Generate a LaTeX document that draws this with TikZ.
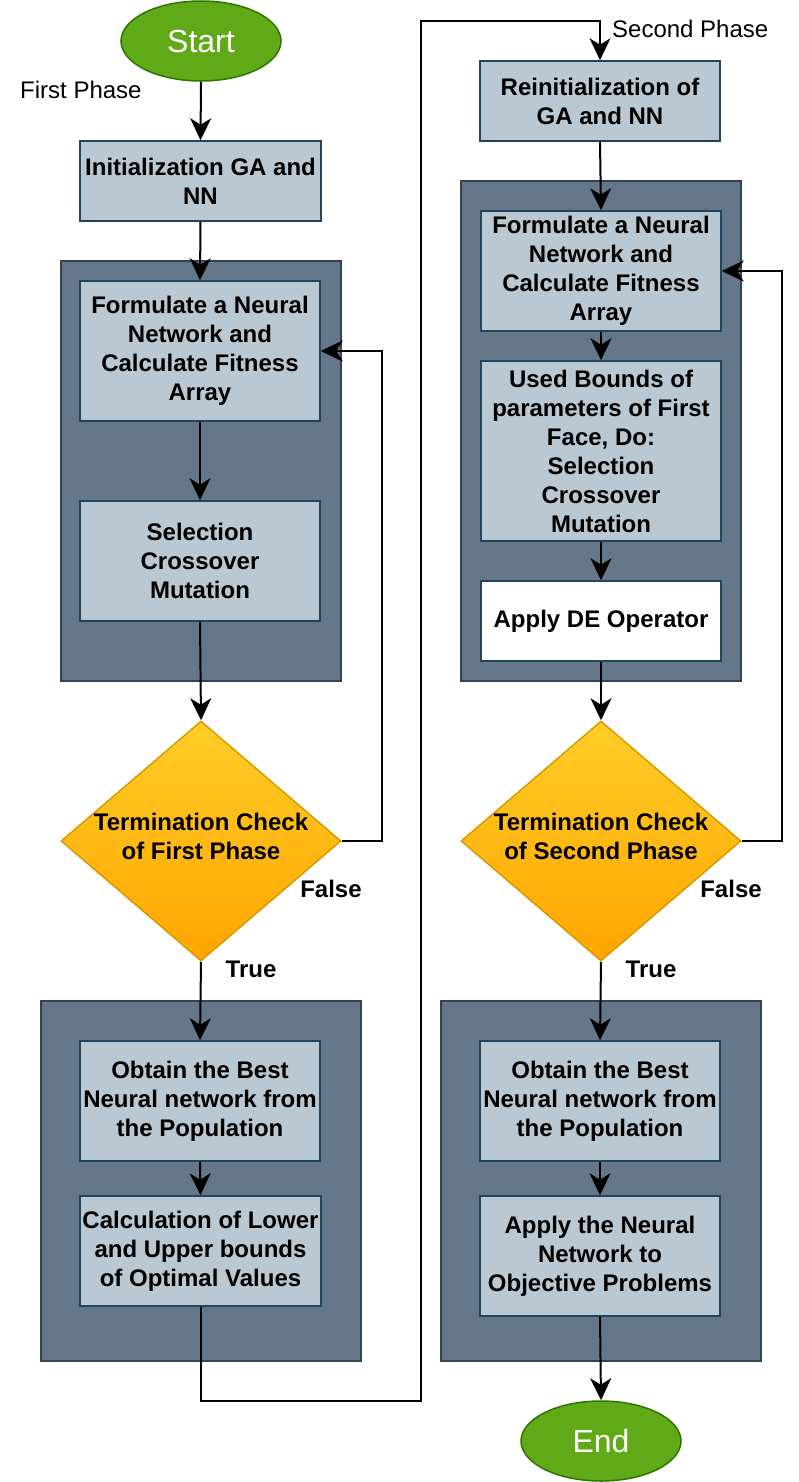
\documentclass[tikz,border=0pt]{standalone}
\usepackage{fontspec}
\setmainfont{Liberation Sans}
\usetikzlibrary{shapes.geometric,arrows.meta}
\definecolor{boxfill}{HTML}{BAC8D3}
\definecolor{boxline}{HTML}{23445D}
\definecolor{grpfill}{HTML}{647687}
\definecolor{grpline}{HTML}{314354}
\definecolor{termfill}{HTML}{60A917}
\definecolor{termline}{HTML}{2D7600}
\definecolor{diatop}{HTML}{FFCD28}
\definecolor{diabot}{HTML}{FFA500}
\definecolor{dialine}{HTML}{D79B00}
\tikzset{
  txt/.style={font=\bfseries\fontsize{24}{29}\selectfont, align=center},
  pbox/.style={txt, rectangle, draw=boxline, fill=boxfill, line width=1.5pt, inner sep=0pt},
  wbox/.style={pbox, fill=white},
  grp/.style={rectangle, draw=grpline, fill=grpfill, line width=1.5pt, inner sep=0pt},
  term/.style={ellipse, draw=termline, fill=termfill, line width=1.5pt, text=white,
     font=\fontsize{32}{38}\selectfont, minimum width=160pt, minimum height=80pt, inner sep=0pt},
  dia/.style={diamond, draw=dialine, top color=diatop, bottom color=diabot, line width=1.5pt,
     minimum width=280pt, minimum height=240pt, aspect=1.1667, inner sep=0pt},
  lbl/.style={font=\bfseries\fontsize{24}{29}\selectfont},
  plain/.style={font=\fontsize{24}{29}\selectfont, inner sep=0pt},
  arr/.style={line width=2pt, -{Stealth[length=22pt,width=21pt,inset=6.5pt]}},
}
\begin{document}
\begin{tikzpicture}[x=1pt,y=-1pt]
\useasboundingbox (0,0) rectangle (798,1482);
% groups
\node[grp, minimum width=280pt, minimum height=420pt] (g1) at (201,471) {};
\node[grp, minimum width=320pt, minimum height=360pt] (g3) at (201,1181) {};
\node[grp, minimum width=280pt, minimum height=500pt] (g2) at (601,431) {};
\node[grp, minimum width=320pt, minimum height=360pt] (g4) at (601,1181) {};
% left column
\node[term] (start) at (201,41) {Start};
\node[plain, anchor=west] (fp) at (20,90) {First Phase};
\node[pbox, minimum width=241pt, minimum height=80pt] (init) at (200.5,181) {Initialization GA and\\NN};
\node[pbox, minimum width=240pt, minimum height=140pt] (form1) at (200,351) {Formulate a Neural\\Network and\\Calculate Fitness\\Array};
\node[pbox, minimum width=240pt, minimum height=120pt] (sel1) at (200,561) {Selection\\Crossover\\Mutation};
\node[dia] (d1) at (201,841) {};
\node[txt] (d1t) at (201,836) {Termination Check\\of First Phase};
\node[lbl] (f1) at (331,889) {False};
\node[lbl] (t1) at (251,969) {True};
\node[pbox, minimum width=240pt, minimum height=120pt] (obt1) at (200,1101) {Obtain the Best\\Neural network from\\the Population};
\node[pbox, minimum width=241pt, minimum height=110pt] (calc1) at (200.5,1251) {Calculation of Lower\\and Upper bounds\\of Optimal Values};
% right column
\node[plain, anchor=west] (sp) at (612,29) {Second Phase};
\node[pbox, minimum width=240pt, minimum height=80pt] (reinit) at (600,101) {Reinitialization of\\GA and NN};
\node[pbox, minimum width=240pt, minimum height=120pt] (form2) at (601,271) {Formulate a Neural\\Network and\\Calculate Fitness\\Array};
\node[pbox, minimum width=240pt, minimum height=180pt] (used) at (601,451) {Used Bounds of\\parameters of First\\Face, Do:\\Selection\\Crossover\\Mutation};
\node[wbox, minimum width=240pt, minimum height=80pt] (de) at (601,621) {Apply DE Operator};
\node[dia] (d2) at (601,841) {};
\node[txt] (d2t) at (601,836) {Termination Check\\of Second Phase};
\node[lbl] (f2) at (731,889) {False};
\node[lbl] (t2) at (651,969) {True};
\node[pbox, minimum width=240pt, minimum height=120pt] (obt2) at (600,1101) {Obtain the Best\\Neural network from\\the Population};
\node[pbox, minimum width=240pt, minimum height=120pt] (nn) at (600,1256) {Apply the Neural\\Network to\\Objective Problems};
\node[term] (end) at (601,1441) {End};
% connectors
\coordinate (c1) at (421,1401);
\coordinate (c2) at (421,21);
\draw[arr] (start.south) -- (init.north);
\draw[arr] (init.south) -- (form1.north);
\draw[arr] (form1.south) -- (sel1.north);
\draw[arr] (sel1.south) -- (d1.north);
\draw[arr] (d1.east) -- ++(40,0) |- (form1.east);
\draw[arr] (d1.south) -- (obt1.north);
\draw[arr] (obt1.south) -- (calc1.north);
\draw[arr] (calc1.south) |- (c1) -- (c2) -| (reinit.north);
\draw[arr] (reinit.south) -- (form2.north);
\draw[arr] (form2.south) -- (used.north);
\draw[arr] (used.south) -- (de.north);
\draw[arr] (de.south) -- (d2.north);
\draw[arr] (d2.east) -- ++(40,0) |- (form2.east);
\draw[arr] (d2.south) -- (obt2.north);
\draw[arr] (obt2.south) -- (nn.north);
\draw[arr] (nn.south) -- (end.north);
\end{tikzpicture}
\end{document}
